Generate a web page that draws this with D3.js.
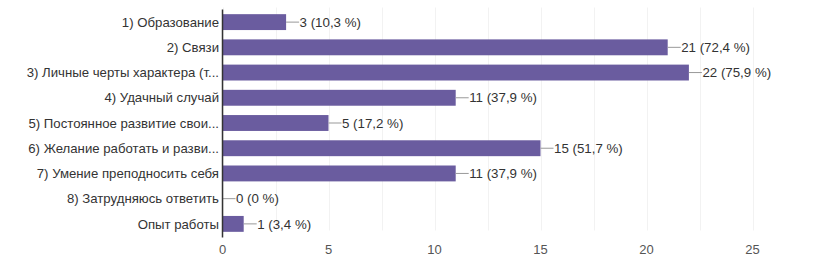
<!DOCTYPE html>
<html><head><meta charset="utf-8">
<script src="https://cdn.jsdelivr.net/npm/d3@7/dist/d3.min.js"></script>
<style>body{margin:0;background:#fff;} text{font-family:"Liberation Sans",Arial,sans-serif;}</style>
</head><body><svg id="c" width="821" height="269"></svg>
<script>
const categories = ["1) Образование","2) Связи","3) Личные черты характера (т...","4) Удачный случай","5) Постоянное развитие свои...","6) Желание работать и разви...","7) Умение преподносить себя","8) Затрудняюсь ответить","Опыт работы"];
const counts = [3,21,22,11,5,15,11,0,1];
const percents = ["10,3","72,4","75,9","37,9","17,2","51,7","37,9","0","3,4"];
const xTicks = [0,5,10,15,20,25];
const gridTicks = [0,2.5,5,7.5,10,12.5,15,17.5,20,22.5,25];

const svg = d3.select("#c");
const pL = 222.5, pR = 752.5, pT = 9.5, pB = 236.5;
const x = d3.scaleLinear().domain([0,25]).range([pL,pR]);
const y = d3.scaleBand().domain(categories).range([pT,pB]).paddingInner(0.37).paddingOuter(0.185);

svg.append("g").selectAll("line").data(gridTicks).join("line")
  .attr("x1",d=>Math.round(x(d))+0.5).attr("x2",d=>Math.round(x(d))+0.5)
  .attr("y1",pT-2).attr("y2",pB-6).attr("stroke","#f2f2f2").attr("stroke-width",1);

svg.append("g").selectAll("rect").data(counts).join("rect")
  .attr("x",x(0)).attr("y",(d,i)=>y(categories[i]))
  .attr("width",d=>x(d)-x(0)).attr("height",y.bandwidth())
  .attr("fill","#6a5c9f");

const g = svg.append("g");
counts.forEach((d,i)=>{
  const cy = y(categories[i])+y.bandwidth()/2;
  const x0 = x(d);
  g.append("line").attr("x1",x0).attr("x2",x0+13).attr("y1",cy).attr("y2",cy).attr("stroke","#999").attr("stroke-width",1);
  g.append("text").attr("x",x0+13.5).attr("y",cy).attr("dy","0.35em")
    .attr("font-size",13.3).attr("fill","#333").text(`${d} (${percents[i]} %)`);
});

svg.append("g").selectAll("text").data(categories).join("text")
  .attr("x",219).attr("y",d=>y(d)+y.bandwidth()/2).attr("dy","0.35em")
  .attr("text-anchor","end").attr("font-size",13.2).attr("fill","#333").text(d=>d);

svg.append("line").attr("x1",pL).attr("x2",pL).attr("y1",pT).attr("y2",pB+1)
  .attr("stroke","#333").attr("stroke-width",1.5);

svg.append("g").selectAll("text").data(xTicks).join("text")
  .attr("x",d=>x(d)).attr("y",254).attr("text-anchor","middle")
  .attr("font-size",13).attr("fill","#555").text(d=>d);
</script></body></html>
